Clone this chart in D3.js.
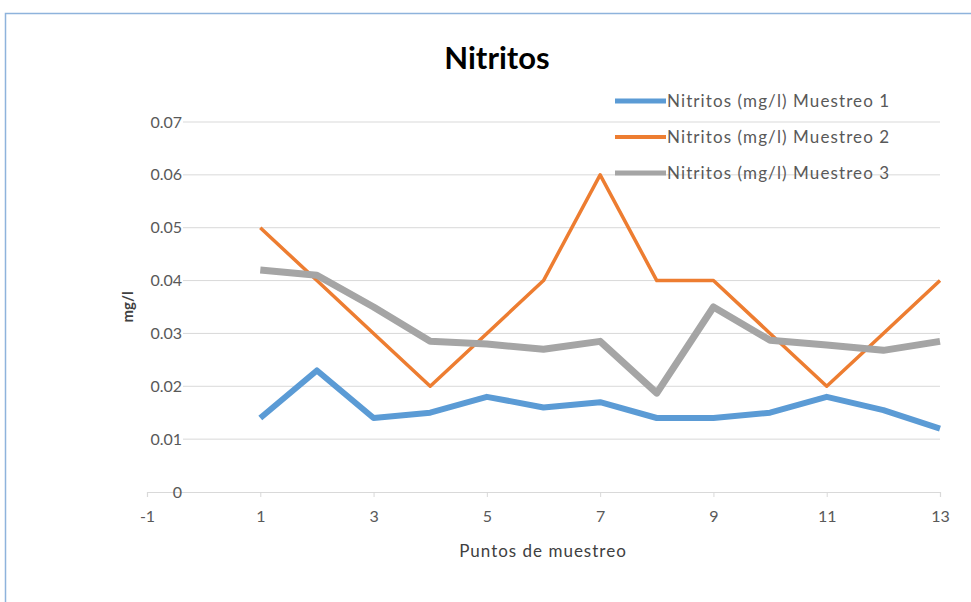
<!DOCTYPE html>
<html><head><meta charset="utf-8">
<script src="https://cdn.jsdelivr.net/npm/d3@7"></script>
<style>body{margin:0;background:#fff;}svg{display:block;}</style>
</head><body>
<script>
const points = [1,2,3,4,5,6,7,8,9,10,11,12,13];
const muestreo1 = [0.014,0.023,0.014,0.015,0.018,0.016,0.017,0.014,0.014,0.015,0.018,0.0155,0.012];
const muestreo2 = [0.05,0.04,0.03,0.02,0.03,0.04,0.06,0.04,0.04,0.03,0.02,0.03,0.04];
const muestreo3 = [0.042,0.041,0.035,0.0285,0.028,0.027,0.0285,0.0187,0.035,0.0287,0.0278,0.0268,0.0285];
const seriesNames = ["Nitritos (mg/l) Muestreo 1","Nitritos (mg/l) Muestreo 2","Nitritos (mg/l) Muestreo 3"];
const xTicks = [-1,1,3,5,7,9,11,13];
const yTicks = [0,0.01,0.02,0.03,0.04,0.05,0.06,0.07];

const W=971,H=602;
const svg=d3.select("body").append("svg").attr("width",W).attr("height",H);
const font="Lato, 'Open Sans', sans-serif";
svg.append("rect").attr("x",5.5).attr("y",13.5).attr("width",W+10).attr("height",H+10)
  .attr("fill","#fff").attr("stroke","#8eb3dc").attr("stroke-width",1.5);

const x=d3.scaleLinear().domain([-1,13]).range([147,940]);
const y=d3.scaleLinear().domain([0,0.07]).range([492,122]);

// gridlines
svg.append("g").selectAll("line").data(yTicks.filter(d=>d>0)).join("line")
  .attr("x1",183).attr("x2",x(13)).attr("y1",d=>y(d)).attr("y2",d=>y(d))
  .attr("stroke","#d9d9d9").attr("stroke-width",1);

// x axis
const xa=svg.append("g").attr("transform",`translate(0,${y(0)})`)
  .call(d3.axisBottom(x).tickValues(xTicks).tickSize(5).tickFormat(d=>String(d)));
xa.select(".domain").attr("stroke","#d9d9d9").attr("stroke-width",1.2);
xa.selectAll(".tick line").attr("stroke","#d9d9d9");
xa.selectAll(".tick text").attr("fill","#595959").attr("font-size",16).attr("font-family",font).attr("dy","1.35em");

// y labels
svg.append("g").selectAll("text").data(yTicks).join("text")
  .attr("x",182).attr("y",d=>y(d)).attr("dy","0.35em").attr("text-anchor","end")
  .attr("fill","#595959").attr("font-size",16).attr("font-family",font)
  .text(d=>d===0?"0":d3.format(".2f")(d));

const colors=["#5b9bd5","#ed7d31","#a5a5a5"];
const widths=[6,3.5,7];
const data=[muestreo1,muestreo2,muestreo3];
const line=d3.line().x((d,i)=>x(points[i])).y(d=>y(d));
data.forEach((s,k)=>{
  svg.append("path").datum(s).attr("d",line).attr("fill","none")
    .attr("stroke",colors[k]).attr("stroke-width",widths[k]).attr("stroke-linejoin","round");
});

// legend
const lg=svg.append("g");
seriesNames.forEach((n,k)=>{
  const ly=101+k*36;
  lg.append("line").attr("x1",615).attr("x2",666).attr("y1",ly).attr("y2",ly)
    .attr("stroke",colors[k]).attr("stroke-width",widths[k]>5?5:4);
  lg.append("text").attr("x",667).attr("y",ly).attr("dy","0.35em")
    .attr("fill","#595959").attr("font-size",17).attr("letter-spacing",1.1).attr("font-family",font).text(n);
});

svg.append("text").attr("x",497).attr("y",58).attr("dy","0.35em").attr("text-anchor","middle")
  .attr("font-size",31).attr("font-weight","bold").attr("font-family",font).attr("fill","#000").text("Nitritos");
svg.append("text").attr("transform",`translate(128,307) rotate(-90)`).attr("dy","0.35em")
  .attr("text-anchor","middle").attr("font-size",15).attr("font-weight","bold").attr("font-family",font)
  .attr("fill","#404040").text("mg/l");
svg.append("text").attr("x",543).attr("y",551).attr("dy","0.35em").attr("text-anchor","middle")
  .attr("font-size",17).attr("letter-spacing",1).attr("font-family",font).attr("fill","#404040").text("Puntos de muestreo");
</script>
</body></html>
